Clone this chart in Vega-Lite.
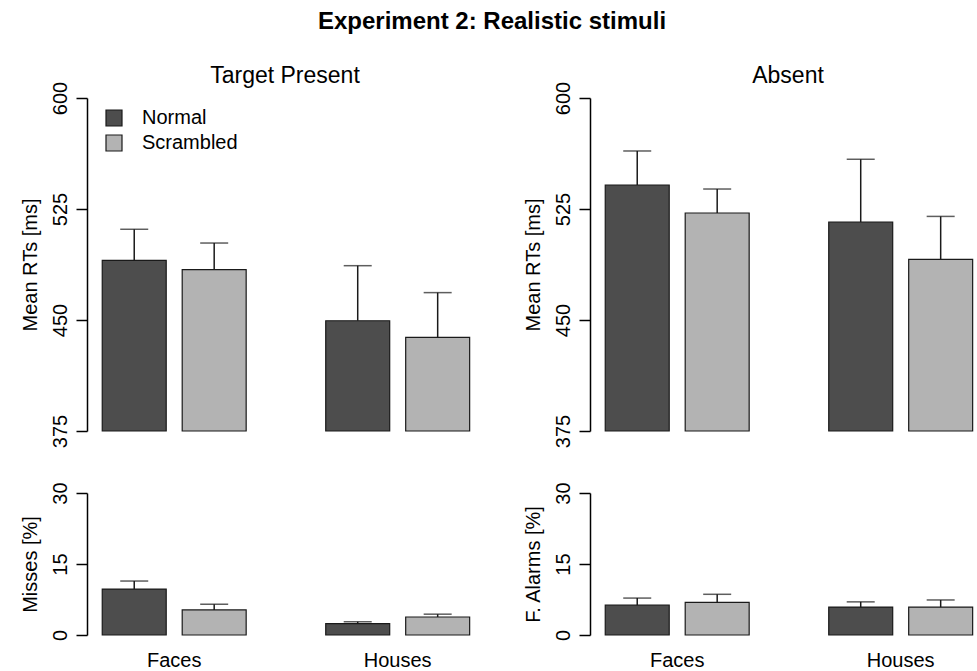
{
  "$schema": "https://vega.github.io/schema/vega-lite/v6.json",
  "padding": {"left": 19, "top": 10, "right": 0, "bottom": 0},
  "background": "white",
  "title": {"text": "Experiment 2: Realistic stimuli", "fontSize": 24, "font": "Liberation Sans", "fontWeight": "bold", "anchor": "middle", "color": "black", "offset": 31, "dx": -6},
  "datasets": {
    "d": [
      {"panel": "present", "stim": "Faces", "cond": "Normal", "value": 490.3, "err": 511.3},
      {"panel": "present", "stim": "Faces", "cond": "Scrambled", "value": 484, "err": 502},
      {"panel": "present", "stim": "Houses", "cond": "Normal", "value": 449.5, "err": 486.7},
      {"panel": "present", "stim": "Houses", "cond": "Scrambled", "value": 438.3, "err": 468.5},
      {"panel": "absent", "stim": "Faces", "cond": "Normal", "value": 541.2, "err": 564.2},
      {"panel": "absent", "stim": "Faces", "cond": "Scrambled", "value": 522.3, "err": 538.5},
      {"panel": "absent", "stim": "Houses", "cond": "Normal", "value": 516.2, "err": 558.6},
      {"panel": "absent", "stim": "Houses", "cond": "Scrambled", "value": 491, "err": 520},
      {"panel": "misses", "stim": "Faces", "cond": "Normal", "value": 9.7, "err": 11.4},
      {"panel": "misses", "stim": "Faces", "cond": "Scrambled", "value": 5.3, "err": 6.5},
      {"panel": "misses", "stim": "Houses", "cond": "Normal", "value": 2.4, "err": 2.8},
      {"panel": "misses", "stim": "Houses", "cond": "Scrambled", "value": 3.8, "err": 4.4},
      {"panel": "fa", "stim": "Faces", "cond": "Normal", "value": 6.3, "err": 7.8},
      {"panel": "fa", "stim": "Faces", "cond": "Scrambled", "value": 6.9, "err": 8.6},
      {"panel": "fa", "stim": "Houses", "cond": "Normal", "value": 5.9, "err": 7.0},
      {"panel": "fa", "stim": "Houses", "cond": "Scrambled", "value": 5.9, "err": 7.4}
    ]
  },
  "data": {"name": "d"},
  "config": {
    "font": "Liberation Sans",
    "view": {"stroke": null},
    "axis": {"domainColor": "black", "tickColor": "black", "labelColor": "black", "titleColor": "black", "labelFontSize": 20, "titleFontSize": 20, "titleFontWeight": "normal", "grid": false, "domainWidth": 1.5, "tickWidth": 1.5, "labelFont": "Liberation Sans", "titleFont": "Liberation Sans"},
    "axisY": {"tickSize": 11, "labelAngle": 270, "labelAlign": "center", "labelBaseline": "bottom", "labelPadding": 6, "titlePadding": 10},
    "title": {"fontSize": 23, "fontWeight": "normal", "color": "black", "font": "Liberation Sans"}
  },
  "resolve": {"legend": {"color": "independent"}, "scale": {"y": "independent"}},
  "columns": 2,
  "spacing": {"row": 33, "column": 49},
  "concat": [
    {
      "width": 386, "height": 333,
      "title": {"text": "Target Present", "frame": "group", "offset": -7, "dx": 5},
      "transform": [{"filter": "datum.panel === 'present'"}],
      "encoding": {
        "x": {"field": "stim", "type": "nominal", "sort": ["Faces", "Houses"], "scale": {"paddingInner": 0.356, "paddingOuter": 0.0416, "align": 0.82}, "axis": null},
        "xOffset": {"field": "cond", "type": "nominal", "sort": ["Normal", "Scrambled"], "scale": {"paddingInner": 0.2, "paddingOuter": 0}}
      },
      "layer": [
        {"mark": {"type": "bar", "stroke": "#1a1a1a", "strokeWidth": 1.2},
         "encoding": {
           "y": {"field": "value", "type": "quantitative", "scale": {"domain": [375, 600], "zero": false, "nice": false}, "axis": {"values": [375, 450, 525, 600], "title": "Mean RTs [ms]"}},
           "y2": {"datum": 375},
           "color": {"field": "cond", "type": "nominal", "scale": {"domain": ["Normal", "Scrambled"], "range": ["#4d4d4d", "#b3b3b3"]},
             "legend": {"orient": "none", "legendX": 17, "legendY": 10, "title": null, "symbolType": "square", "symbolSize": 256, "symbolStrokeColor": "#1a1a1a", "symbolStrokeWidth": 1.2, "labelFontSize": 20, "labelOffset": 18, "rowPadding": 3, "labelColor": "black", "padding": 0, "labelFont": "Liberation Sans"}}
         }},
        {"mark": {"type": "rule", "color": "#1a1a1a", "strokeWidth": 1.5},
         "encoding": {"y": {"field": "value", "type": "quantitative", "scale": {"domain": [375, 600], "zero": false, "nice": false}}, "y2": {"field": "err"}}},
        {"mark": {"type": "tick", "color": "#1a1a1a", "thickness": 1.5, "size": 28},
         "encoding": {"y": {"field": "err", "type": "quantitative", "scale": {"domain": [375, 600], "zero": false, "nice": false}}}}
      ]
    },
    {
      "width": 386, "height": 333,
      "title": {"text": "Absent", "frame": "group", "offset": -7, "dx": 5},
      "transform": [{"filter": "datum.panel === 'absent'"}],
      "encoding": {
        "x": {"field": "stim", "type": "nominal", "sort": ["Faces", "Houses"], "scale": {"paddingInner": 0.356, "paddingOuter": 0.0416, "align": 0.82}, "axis": null},
        "xOffset": {"field": "cond", "type": "nominal", "sort": ["Normal", "Scrambled"], "scale": {"paddingInner": 0.2, "paddingOuter": 0}}
      },
      "layer": [
        {"mark": {"type": "bar", "stroke": "#1a1a1a", "strokeWidth": 1.2},
         "encoding": {
           "y": {"field": "value", "type": "quantitative", "scale": {"domain": [375, 600], "zero": false, "nice": false}, "axis": {"values": [375, 450, 525, 600], "title": "Mean RTs [ms]"}},
           "y2": {"datum": 375},
           "color": {"field": "cond", "type": "nominal", "scale": {"domain": ["Normal", "Scrambled"], "range": ["#4d4d4d", "#b3b3b3"]}, "legend": null}
         }},
        {"mark": {"type": "rule", "color": "#1a1a1a", "strokeWidth": 1.5},
         "encoding": {"y": {"field": "value", "type": "quantitative", "scale": {"domain": [375, 600], "zero": false, "nice": false}}, "y2": {"field": "err"}}},
        {"mark": {"type": "tick", "color": "#1a1a1a", "thickness": 1.5, "size": 28},
         "encoding": {"y": {"field": "err", "type": "quantitative", "scale": {"domain": [375, 600], "zero": false, "nice": false}}}}
      ]
    },
    {
      "width": 386, "height": 142,
      "transform": [{"filter": "datum.panel === 'misses'"}],
      "encoding": {
        "x": {"field": "stim", "type": "nominal", "sort": ["Faces", "Houses"], "scale": {"paddingInner": 0.356, "paddingOuter": 0.0416, "align": 0.82}, "axis": {"title": null, "domain": false, "ticks": false, "labelAngle": 0, "labelPadding": 15, "labelFontSize": 20}},
        "xOffset": {"field": "cond", "type": "nominal", "sort": ["Normal", "Scrambled"], "scale": {"paddingInner": 0.2, "paddingOuter": 0}}
      },
      "layer": [
        {"mark": {"type": "bar", "stroke": "#1a1a1a", "strokeWidth": 1.2},
         "encoding": {
           "y": {"field": "value", "type": "quantitative", "scale": {"domain": [0, 30], "nice": false}, "axis": {"values": [0, 15, 30], "title": "Misses [%]"}},
           "color": {"field": "cond", "type": "nominal", "scale": {"domain": ["Normal", "Scrambled"], "range": ["#4d4d4d", "#b3b3b3"]}, "legend": null}
         }},
        {"mark": {"type": "rule", "color": "#1a1a1a", "strokeWidth": 1.5},
         "encoding": {"y": {"field": "value", "type": "quantitative"}, "y2": {"field": "err"}}},
        {"mark": {"type": "tick", "color": "#1a1a1a", "thickness": 1.5, "size": 28},
         "encoding": {"y": {"field": "err", "type": "quantitative"}}}
      ]
    },
    {
      "width": 386, "height": 142,
      "transform": [{"filter": "datum.panel === 'fa'"}],
      "encoding": {
        "x": {"field": "stim", "type": "nominal", "sort": ["Faces", "Houses"], "scale": {"paddingInner": 0.356, "paddingOuter": 0.0416, "align": 0.82}, "axis": {"title": null, "domain": false, "ticks": false, "labelAngle": 0, "labelPadding": 15, "labelFontSize": 20}},
        "xOffset": {"field": "cond", "type": "nominal", "sort": ["Normal", "Scrambled"], "scale": {"paddingInner": 0.2, "paddingOuter": 0}}
      },
      "layer": [
        {"mark": {"type": "bar", "stroke": "#1a1a1a", "strokeWidth": 1.2},
         "encoding": {
           "y": {"field": "value", "type": "quantitative", "scale": {"domain": [0, 30], "nice": false}, "axis": {"values": [0, 15, 30], "title": "F. Alarms [%]"}},
           "color": {"field": "cond", "type": "nominal", "scale": {"domain": ["Normal", "Scrambled"], "range": ["#4d4d4d", "#b3b3b3"]}, "legend": null}
         }},
        {"mark": {"type": "rule", "color": "#1a1a1a", "strokeWidth": 1.5},
         "encoding": {"y": {"field": "value", "type": "quantitative"}, "y2": {"field": "err"}}},
        {"mark": {"type": "tick", "color": "#1a1a1a", "thickness": 1.5, "size": 28},
         "encoding": {"y": {"field": "err", "type": "quantitative"}}}
      ]
    }
  ]
}
